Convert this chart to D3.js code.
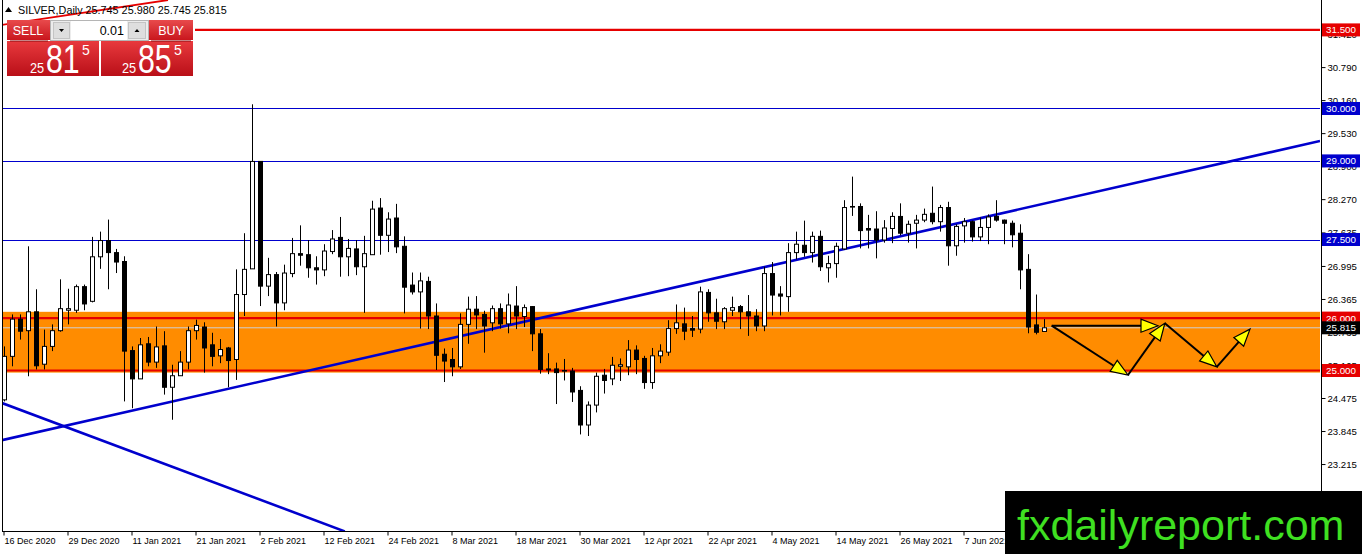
<!DOCTYPE html>
<html>
<head>
<meta charset="utf-8">
<script src="https://cdn.jsdelivr.net/npm/d3@7"></script>
<style>
  body { margin: 0; background: #fff; }
  svg { display: block; font-family: "Liberation Sans", Arial, sans-serif; }
</style>
</head>
<body>
<svg width="1362" height="554"></svg>
<script>
// daily candles, 16 Dec 2020 .. 21 Jun 2021 (index 0..130)
var open = [24.44,25.27,25.98,25.76,26.12,25.12,25.46,25.76,26.15,26.15,26.60,26.32,27.17,27.48,27.25,27.08,25.38,24.84,25.51,25.16,
  25.47,24.68,24.90,25.16,25.76,25.83,25.49,25.28,25.43,25.21,26.45,26.94,28.99,26.61,26.83,26.29,26.85,27.23,27.21,26.96,
  26.92,27.27,27.54,27.17,27.32,26.98,27.21,28.10,27.58,27.91,27.37,26.63,26.50,26.70,26.04,25.31,25.21,25.07,25.88,26.17,
  26.07,25.91,26.18,25.89,26.23,26.03,26.22,25.70,25.03,25.03,24.99,24.99,24.62,23.96,24.34,24.91,24.84,25.08,25.07,25.39,
  25.23,24.77,25.28,25.35,25.80,25.89,25.80,25.79,26.49,26.10,25.93,26.15,26.22,26.12,26.04,25.85,26.85,26.46,26.41,27.25,
  27.39,27.25,27.56,26.96,27.04,27.32,28.12,28.13,27.71,27.70,27.49,27.71,27.94,27.62,27.81,27.87,28.00,27.84,28.11,27.38,
  27.76,27.84,27.55,27.73,27.94,27.87,27.81,27.62,26.93,25.87,25.745];
var high = [25.46,26.07,26.07,27.37,26.55,25.78,25.88,26.74,26.56,26.64,26.64,27.55,27.65,27.88,27.32,27.18,25.46,25.62,25.64,25.84,
  25.75,25.11,25.37,25.84,25.97,25.92,25.72,25.60,25.45,26.93,27.62,30.08,28.99,27.15,26.88,27.02,27.53,27.77,27.49,27.18,
  27.41,27.68,27.93,27.51,27.49,27.57,28.24,28.29,28.02,28.18,27.56,26.87,26.87,26.79,26.28,25.42,25.43,26.09,26.41,26.42,
  26.14,26.24,26.28,26.47,26.61,26.26,26.23,25.79,25.33,25.15,25.22,25.05,24.70,24.41,24.96,25.03,25.26,25.23,25.58,25.48,
  25.28,25.43,25.50,25.96,26.26,26.20,26.04,26.60,26.55,26.37,26.21,26.41,26.25,26.44,26.17,26.98,27.07,26.61,27.43,27.65,
  27.86,27.65,27.67,27.19,27.44,28.25,28.70,28.19,27.97,28.04,27.87,28.02,28.19,27.86,27.97,28.09,28.51,28.16,28.22,27.79,
  27.91,27.86,27.92,27.98,28.25,27.88,27.86,27.79,27.22,26.45,25.98];
var low = [24.41,25.08,25.59,24.89,25.02,25.02,25.37,25.74,25.88,26.10,26.15,26.30,26.94,26.55,26.86,24.41,24.28,24.84,25.08,25.05,
  24.54,24.06,24.90,25.02,25.59,24.96,25.08,25.14,24.68,24.82,26.04,26.94,26.23,26.42,25.84,26.15,26.78,27.00,26.77,26.64,
  26.80,27.22,26.79,26.80,26.82,26.10,27.21,27.21,27.26,27.24,26.09,26.45,25.80,25.79,25.01,24.78,24.89,25.03,25.51,25.79,
  25.34,25.75,25.80,25.71,25.79,25.83,25.37,24.94,24.93,24.36,24.81,24.40,23.78,23.75,24.20,24.56,24.72,24.80,24.91,24.93,
  24.65,24.65,25.14,25.28,25.70,25.58,25.64,25.71,25.93,25.79,25.79,26.04,25.79,25.66,25.75,25.75,26.05,26.05,26.12,27.12,
  27.17,27.06,26.90,26.68,26.77,27.30,27.95,27.33,27.33,27.14,27.44,27.43,27.58,27.44,27.33,27.83,27.79,27.65,27.00,27.19,
  27.44,27.46,27.47,27.41,27.84,27.41,27.35,26.55,25.71,25.69,25.745];
var close = [25.27,25.98,25.75,26.12,25.09,25.46,25.76,26.18,26.18,26.60,26.27,27.17,27.48,27.25,27.07,25.37,24.84,25.49,25.16,25.45,
  24.68,24.90,25.16,25.76,25.86,25.43,25.27,25.40,25.19,26.45,26.93,28.99,26.61,26.83,26.29,26.86,27.23,27.20,26.96,26.92,
  27.28,27.51,27.17,27.33,26.98,27.23,28.08,27.58,27.89,27.36,26.59,26.50,26.71,26.04,25.29,25.18,25.07,25.88,26.17,26.06,
  25.85,26.18,25.89,26.25,26.04,26.20,25.70,25.02,25.01,24.96,25.00,24.59,23.96,24.34,24.89,24.81,25.10,25.11,25.39,25.21,
  24.77,25.28,25.37,25.80,25.91,25.75,25.77,26.50,26.10,25.94,26.18,26.20,26.12,26.04,25.85,26.85,26.44,26.42,27.25,27.41,
  27.25,27.56,26.98,27.04,27.37,28.11,28.13,27.67,27.68,27.49,27.72,27.94,27.62,27.79,27.87,27.98,27.84,28.11,27.38,27.75,
  27.84,27.55,27.73,27.93,27.87,27.81,27.59,26.92,25.83,25.73,25.815];

var xTickIdx = [0, 8, 16, 24, 32, 40, 48, 56, 64, 72, 80, 88, 96, 104, 112, 120];
var xTickLabels = ["16 Dec 2020", "29 Dec 2020", "11 Jan 2021", "21 Jan 2021", "2 Feb 2021", "12 Feb 2021",
  "24 Feb 2021", "8 Mar 2021", "18 Mar 2021", "30 Mar 2021", "12 Apr 2021", "22 Apr 2021",
  "4 May 2021", "14 May 2021", "26 May 2021", "7 Jun 2021"];
var yTicks = [31.420, 30.790, 30.160, 29.530, 28.900, 28.270, 27.635, 26.995, 26.365, 25.735, 25.105, 24.475, 23.845, 23.215];

// horizontal levels
var blueLevels = [30.0, 29.0, 27.5];
var redLevels = [26.0, 25.0];
var topRedLevel = 31.5;
var bidPrice = 25.815;
var zoneTop = 26.12, zoneBottom = 24.96;

// trend lines [i1, v1, i2, v2]
var blueTrends = [[-0.25, 23.67, 164.5, 29.38], [-0.25, 24.38, 42.6, 21.93]];
var redTrend = [-0.5, 31.59, 20.5, 32.07];

// projected path arrows
var arrowFromIdx = [130.96, 130.96, 140.5, 145.1, 151.6];
var arrowFromVal = [25.855, 25.855, 24.914, 25.90, 25.07];
var arrowToIdx = [144.25, 140.5, 145.1, 151.6, 155.75];
var arrowToVal = [25.855, 24.914, 25.90, 25.07, 25.79];

var labelBoxes = [
  {v: 31.5, t: "31.500", c: "#e60000"},
  {v: 30.0, t: "30.000", c: "#0000cd"},
  {v: 29.0, t: "29.000", c: "#0000cd"},
  {v: 27.5, t: "27.500", c: "#0000cd"},
  {v: 26.0, t: "26.000", c: "#e60000"},
  {v: 25.0, t: "25.000", c: "#e60000"},
  {v: 25.815, t: "25.815", c: "#000"}
];

const svg = d3.select("svg");
var width = +svg.attr("width");
var height = +svg.attr("height");

var plotL = 2, plotR = 1320, plotB = 531;

var x = d3.scaleLinear().domain([-0.25, 164.5]).range([plotL, plotR]);
var y = d3.scaleLinear().domain([22, 32]).range([527.7, 3.7]);

var defs = svg.append("defs");
defs.append("clipPath").attr("id", "plot")
  .append("rect").attr("x", plotL).attr("y", 0).attr("width", plotR - plotL).attr("height", plotB);

var g1 = defs.append("linearGradient").attr("id", "bigRed").attr("x1", 0).attr("y1", 0).attr("x2", 0).attr("y2", 1);
g1.append("stop").attr("offset", "0%").attr("stop-color", "#e8393d");
g1.append("stop").attr("offset", "100%").attr("stop-color", "#b90f18");
var g2 = defs.append("linearGradient").attr("id", "btnRed").attr("x1", 0).attr("y1", 0).attr("x2", 0).attr("y2", 1);
g2.append("stop").attr("offset", "0%").attr("stop-color", "#e84a4c");
g2.append("stop").attr("offset", "100%").attr("stop-color", "#c9161d");

svg.append("rect").attr("width", width).attr("height", height).attr("fill", "#fff");

var plot = svg.append("g").attr("clip-path", "url(#plot)");

// orange zone
plot.append("rect")
  .attr("x", plotL).attr("width", plotR - plotL)
  .attr("y", y(zoneTop)).attr("height", y(zoneBottom) - y(zoneTop))
  .attr("fill", "#ff8c00");

// bid line
plot.append("line")
  .attr("x1", plotL).attr("x2", plotR)
  .attr("y1", y(bidPrice)).attr("y2", y(bidPrice))
  .attr("stroke", "#d0d0d0").attr("stroke-width", 1);

plot.selectAll(".blvl").data(blueLevels).join("line")
  .attr("x1", plotL).attr("x2", plotR)
  .attr("y1", d => Math.round(y(d)) + 0.5).attr("y2", d => Math.round(y(d)) + 0.5)
  .attr("stroke", "#0000cd").attr("stroke-width", 1);

plot.selectAll(".rlvl").data(redLevels).join("line")
  .attr("x1", plotL).attr("x2", plotR)
  .attr("y1", d => y(d)).attr("y2", d => y(d))
  .attr("stroke", "#e60000").attr("stroke-width", 2.2);

plot.append("line")
  .attr("x1", 195).attr("x2", plotR)
  .attr("y1", y(topRedLevel)).attr("y2", y(topRedLevel))
  .attr("stroke", "#e60000").attr("stroke-width", 2.2);

plot.selectAll(".trend").data(blueTrends).join("line")
  .attr("x1", d => x(d[0])).attr("y1", d => y(d[1]))
  .attr("x2", d => x(d[2])).attr("y2", d => y(d[3]))
  .attr("stroke", "#0000cd").attr("stroke-width", 2.6);

plot.append("line")
  .attr("x1", x(redTrend[0])).attr("y1", y(redTrend[1]))
  .attr("x2", x(redTrend[2])).attr("y2", y(redTrend[3]))
  .attr("stroke", "#e60000").attr("stroke-width", 1.8);

// candles
var idx = d3.range(open.length);
plot.append("g").selectAll("line").data(idx).join("line")
  .attr("x1", i => x(i) + 0.5).attr("x2", i => x(i) + 0.5)
  .attr("y1", i => y(high[i])).attr("y2", i => y(low[i]))
  .attr("stroke", "#000").attr("stroke-width", 1);

plot.append("g").selectAll("rect").data(idx).join("rect")
  .attr("x", i => x(i) - 1.5)
  .attr("width", 4)
  .attr("y", i => y(Math.max(open[i], close[i])))
  .attr("height", i => Math.max(0.6, Math.abs(y(open[i]) - y(close[i]))))
  .attr("fill", i => close[i] >= open[i] ? "#fff" : "#000")
  .attr("stroke", "#000").attr("stroke-width", 1);

// arrows
var arrows = svg.append("g");
d3.range(arrowFromIdx.length).forEach(function (k) {
  var x1 = x(arrowFromIdx[k]), y1 = y(arrowFromVal[k]);
  var x2 = x(arrowToIdx[k]), y2 = y(arrowToVal[k]);
  var a = Math.atan2(y2 - y1, x2 - x1);
  var len = 17, hw = 6.5;
  var bx = x2 - len * Math.cos(a), by = y2 - len * Math.sin(a);
  arrows.append("line")
    .attr("x1", x1).attr("y1", y1).attr("x2", bx).attr("y2", by)
    .attr("stroke", "#000").attr("stroke-width", 2);
  var pts = [[x2, y2],
    [bx + hw * Math.sin(a), by - hw * Math.cos(a)],
    [bx - hw * Math.sin(a), by + hw * Math.cos(a)]];
  arrows.append("polygon")
    .attr("points", pts.map(p => p.join(",")).join(" "))
    .attr("fill", "#ffff00").attr("stroke", "#000").attr("stroke-width", 1.2);
});

// frame
svg.append("line").attr("x1", plotL + 0.5).attr("x2", plotL + 0.5).attr("y1", 0).attr("y2", plotB)
  .attr("stroke", "#000");
svg.append("line").attr("x1", plotL).attr("x2", plotR + 1).attr("y1", plotB + 0.5).attr("y2", plotB + 0.5)
  .attr("stroke", "#000");
svg.append("line").attr("x1", plotR + 1.5).attr("x2", plotR + 1.5).attr("y1", 0).attr("y2", height)
  .attr("stroke", "#000");

// price axis
var yAxis = d3.axisRight(y).tickValues(yTicks).tickFormat(d3.format(".3f")).tickSize(4).tickSizeOuter(0);
var ya = svg.append("g").attr("transform", "translate(" + (plotR + 1.5) + ",0)").call(yAxis);
ya.select(".domain").remove();
ya.selectAll("text").attr("x", 6).attr("font-size", "9.6px").attr("font-family", "Liberation Sans, Arial, sans-serif").attr("fill", "#000");
ya.selectAll("line").attr("stroke", "#000");

// time axis
var xAxis = d3.axisBottom(x).tickValues(xTickIdx).tickFormat((d, i) => xTickLabels[i]).tickSize(4).tickSizeOuter(0);
var xa = svg.append("g").attr("transform", "translate(0," + (plotB + 0.5) + ")").call(xAxis);
xa.select(".domain").remove();
xa.selectAll("line").attr("stroke", "#000").attr("transform", "translate(-0.5,0)");
xa.selectAll("text").attr("text-anchor", "start").attr("x", 0).attr("y", 6)
  .attr("font-size", "9px").attr("font-family", "Liberation Sans, Arial, sans-serif").attr("fill", "#000");

// coloured price labels
var lb = svg.append("g").selectAll("g").data(labelBoxes).join("g")
  .attr("transform", d => "translate(" + (plotR + 2) + "," + y(d.v) + ")");
lb.append("rect").attr("x", 0).attr("y", -6.5).attr("width", 38).attr("height", 13).attr("fill", d => d.c);
lb.append("text").attr("x", 19).attr("y", 3.5).attr("text-anchor", "middle")
  .attr("font-size", "9.8px").attr("fill", "#fff").text(d => d.t);

// header
svg.append("path").attr("d", "M5,12 L8.5,7 L12,12 Z").attr("fill", "#000");
svg.append("text").attr("x", 18).attr("y", 14).attr("font-size", "10.8px").attr("fill", "#000")
  .text("SILVER,Daily  25.745 25.980 25.745 25.815");

// one-click trading panel
var p = svg.append("g");
p.append("rect").attr("x", 7).attr("y", 20).attr("width", 43).attr("height", 20).attr("fill", "url(#btnRed)");
p.append("rect").attr("x", 149).attr("y", 20).attr("width", 44).attr("height", 20).attr("fill", "url(#btnRed)");
p.append("rect").attr("x", 50.5).attr("y", 20.5).attr("width", 98).attr("height", 20).attr("fill", "#ececec").attr("stroke", "#b5b5b5");
p.append("rect").attr("x", 53.5).attr("y", 22.5).attr("width", 16).attr("height", 16).attr("fill", "#dedede").attr("stroke", "#c4c4c4");
p.append("rect").attr("x", 128.5).attr("y", 22.5).attr("width", 17).attr("height", 16).attr("fill", "#dedede").attr("stroke", "#c4c4c4");
p.append("rect").attr("x", 71).attr("y", 21).attr("width", 56).attr("height", 19).attr("fill", "#fff");
p.append("path").attr("d", "M59,29 L64,29 L61.5,32 Z").attr("fill", "#000");
p.append("path").attr("d", "M134.5,32 L139.5,32 L137,29 Z").attr("fill", "#000");
p.append("rect").attr("x", 7).attr("y", 41).attr("width", 92).attr("height", 35).attr("fill", "url(#bigRed)");
p.append("rect").attr("x", 101).attr("y", 41).attr("width", 92).attr("height", 35).attr("fill", "url(#bigRed)");
p.append("line").attr("x1", 10).attr("x2", 48).attr("y1", 41).attr("y2", 41).attr("stroke", "#8a0c10");
p.append("line").attr("x1", 151).attr("x2", 191).attr("y1", 41).attr("y2", 41).attr("stroke", "#8a0c10");

p.append("text").attr("x", 28).attr("y", 35).attr("text-anchor", "middle").attr("font-size", "12.5px").attr("fill", "#fff").text("SELL");
p.append("text").attr("x", 171).attr("y", 35).attr("text-anchor", "middle").attr("font-size", "12.5px").attr("fill", "#fff").text("BUY");
p.append("text").attr("x", 124).attr("y", 35).attr("text-anchor", "end").attr("font-size", "12.5px").attr("fill", "#000").text("0.01");

function bigPrice(x0, big) {
  p.append("text").attr("transform", "translate(" + x0 + ",73) scale(0.85,1)")
    .attr("font-size", "15px").attr("fill", "#fff").text("25");
  p.append("text").attr("transform", "translate(" + (x0 + 16) + ",73) scale(0.74,1)")
    .attr("font-size", "41px").attr("fill", "#fff").text(big);
  p.append("text").attr("transform", "translate(" + (x0 + 52) + ",55)")
    .attr("font-size", "14px").attr("fill", "#fff").text("5");
}
bigPrice(30, "81");
bigPrice(122, "85");

// watermark
svg.append("rect").attr("x", 1005).attr("y", 491).attr("width", width - 1005).attr("height", height - 491).attr("fill", "#000");
svg.append("text").attr("x", 1017).attr("y", 540).attr("font-size", "43px").attr("fill", "#3fe021")
  .text("fxdailyreport.com");
</script>
</body>
</html>
